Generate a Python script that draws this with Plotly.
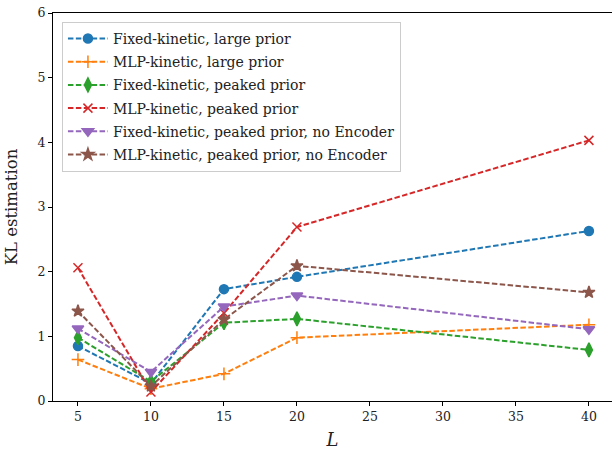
import plotly.graph_objects as go

L = [5, 10, 15, 20, 40]
fixed_large = [0.85, 0.27, 1.73, 1.92, 2.63]
mlp_large = [0.64, 0.19, 0.42, 0.98, 1.18]
fixed_peaked = [0.98, 0.30, 1.21, 1.27, 0.79]
mlp_peaked = [2.06, 0.14, 1.36, 2.69, 4.03]
fixed_peaked_noenc = [1.12, 0.45, 1.46, 1.63, 1.11]
mlp_peaked_noenc = [1.39, 0.23, 1.26, 2.09, 1.68]

names = [
    "Fixed-kinetic, large prior",
    "MLP-kinetic, large prior",
    "Fixed-kinetic, peaked prior",
    "MLP-kinetic, peaked prior",
    "Fixed-kinetic, peaked prior, no Encoder",
    "MLP-kinetic, peaked prior, no Encoder",
]
series = [fixed_large, mlp_large, fixed_peaked, mlp_peaked, fixed_peaked_noenc, mlp_peaked_noenc]
colors = ["#1f77b4", "#ff7f0e", "#2ca02c", "#d62728", "#9467bd", "#8c564b"]
symbols = ["circle", "cross-thin", "diamond-tall", "x-thin", "triangle-down", "star"]
sizes = [9, 9, 10, 9, 10, 9]

FONT = "DejaVu Serif, Liberation Serif, serif"
fig = go.Figure()
for i, (n, y) in enumerate(zip(names, series)):
    fig.add_trace(go.Scatter(
        x=L, y=y, name=n, mode="lines+markers", legendgroup=f"g{i}",
        line=dict(color=colors[i], width=2, dash="5.5px,2.4px"),
        marker=dict(symbol=symbols[i], size=sizes[i], color=colors[i],
                    line=dict(color=colors[i], width=1.5)),
    ))

fig.update_layout(
    width=612, height=450,
    margin=dict(l=53, r=0, t=13, b=49),
    plot_bgcolor="white", paper_bgcolor="white",
    font=dict(family=FONT, size=13, color="#222222"),
    showlegend=True,
    legend=dict(x=0.016, y=0.977, xanchor="left", yanchor="top",
                bordercolor="#cccccc", borderwidth=1, bgcolor="rgba(255,255,255,0.8)",
                font=dict(family=FONT, size=14, color="#222222"), tracegroupgap=2,
                itemwidth=40),
    xaxis=dict(range=[3.29, 41.58], tickvals=[5, 10, 15, 20, 25, 30, 35, 40],
               automargin=False,
               showgrid=False, zeroline=False, showline=True, linecolor="black",
               linewidth=1, mirror=True, ticks="outside", ticklen=4, tickcolor="black",
               tickfont=dict(family=FONT, size=12.5),
               title=dict(text="<i>L</i>", font=dict(family=FONT, size=18))),
    yaxis=dict(range=[0, 6], tickvals=[0, 1, 2, 3, 4, 5, 6],
               automargin=False,
               showgrid=False, zeroline=False, showline=True, linecolor="black",
               linewidth=1, ticks="outside", ticklen=4, tickcolor="black",
               tickfont=dict(family=FONT, size=12.5),
               title=dict(text="KL estimation", font=dict(family=FONT, size=16.5))),
)
fig.write_html("out.html", config={"displayModeBar": False},
               post_script="document.body.style.margin='0';")
